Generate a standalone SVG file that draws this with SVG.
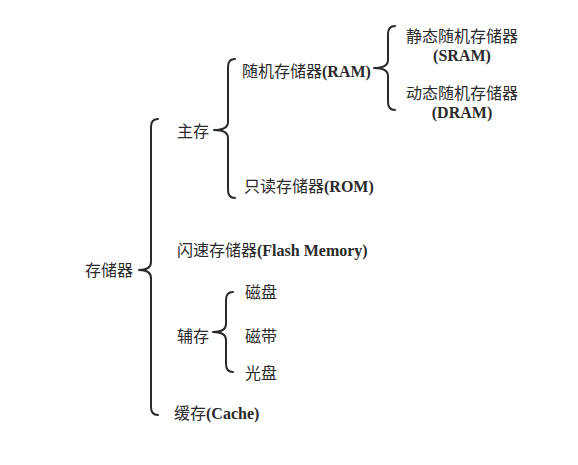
<svg xmlns="http://www.w3.org/2000/svg" width="578" height="465" viewBox="0 0 578 465">
<style>
.t{font-family:"Noto Sans CJK SC","Liberation Serif",serif;font-size:16px;fill:#2a2a2a}
.b{font-family:"Liberation Serif",serif;font-weight:bold;font-size:16px;fill:#2a2a2a}
.br{fill:none;stroke:#2a2a2a;stroke-width:2;stroke-linecap:round;stroke-linejoin:round}
</style>
<rect width="578" height="465" fill="#fff"/>
<g id="connectors">
<path class="br" d="M158,119 Q151,119 151,127 L151,262 Q151,270 139,270 Q151,270 151,278 L151,407 Q151,415 158,415"/>
<path class="br" d="M235,59 Q228,59 228,67 L228,122 Q228,130 214,130 Q228,130 228,138 L228,190 Q228,198 235,198"/>
<path class="br" d="M395,26 Q388,26 388,34 L388,60 Q388,68 374,68 Q388,68 388,76 L388,102 Q388,110 395,110"/>
<path class="br" d="M233,292 Q226,292 226,300 L226,324 Q226,332 213,332 Q226,332 226,340 L226,364 Q226,372 233,372"/>
</g>
<g id="n-storage"><text class="t" x="85" y="276">存储器</text></g>
<g id="n-main"><text class="t" x="177" y="137">主存</text></g>
<g id="n-ram"><text class="t" x="242" y="77">随机存储器<tspan class="b">(RAM)</tspan></text></g>
<g id="n-rom"><text class="t" x="244" y="192">只读存储器<tspan class="b">(ROM)</tspan></text></g>
<g id="n-sram"><text class="t" x="462" y="42" text-anchor="middle">静态随机存储器</text><text class="b" x="462" y="61" text-anchor="middle">(SRAM)</text></g>
<g id="n-dram"><text class="t" x="462" y="99" text-anchor="middle">动态随机存储器</text><text class="b" x="462" y="118" text-anchor="middle">(DRAM)</text></g>
<g id="n-flash"><text class="t" x="177" y="256">闪速存储器<tspan class="b">(Flash Memory)</tspan></text></g>
<g id="n-aux"><text class="t" x="177" y="342">辅存</text></g>
<g id="n-disk"><text class="t" x="245" y="298">磁盘</text></g>
<g id="n-tape"><text class="t" x="245" y="342">磁带</text></g>
<g id="n-optical"><text class="t" x="245" y="379">光盘</text></g>
<g id="n-cache"><text class="t" x="174" y="419">缓存<tspan class="b">(Cache)</tspan></text></g>
</svg>
